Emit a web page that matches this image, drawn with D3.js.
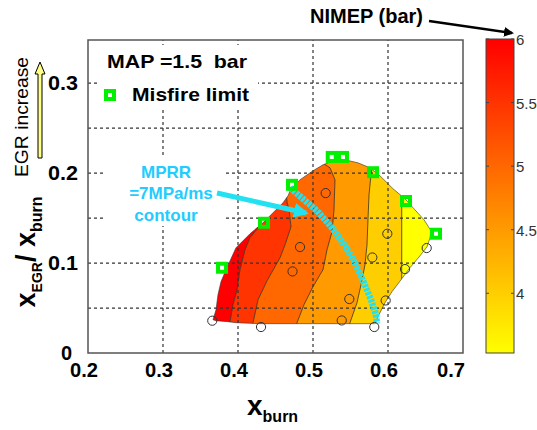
<!DOCTYPE html>
<html>
<head>
<meta charset="utf-8">
<script src="https://cdn.jsdelivr.net/npm/d3@7"></script>
<style>
body{margin:0;background:#fff;}
svg{font-family:"Liberation Sans",Arial,sans-serif;}
</style>
</head>
<body>
<svg id="chart" width="537" height="430"></svg>
<script>
// edge of the measured area, x_burn / x_EGR/x_burn (clockwise from bottom left)
const region = [[0.3667,0.0370],[0.3707,0.0481],[0.3733,0.0648],[0.3773,0.0792],[0.3840,0.0926],
  [0.3973,0.1170],[0.4160,0.1326],[0.4333,0.1448],[0.4493,0.1581],[0.4600,0.1670],[0.4667,0.1748],
  [0.4707,0.1826],[0.4827,0.1926],[0.5000,0.2026],[0.5133,0.2092],[0.5267,0.2137],[0.5427,0.2148],
  [0.5600,0.2114],[0.5760,0.2059],[0.5907,0.1959],[0.6067,0.1826],[0.6227,0.1714],[0.6347,0.1603],
  [0.6480,0.1481],[0.6573,0.1359],[0.6560,0.1281],[0.6520,0.1181],[0.6427,0.1081],[0.6293,0.0948],
  [0.6173,0.0814],[0.6053,0.0681],[0.5960,0.0559],[0.5880,0.0426],[0.5827,0.0326],[0.5360,0.0326],
  [0.4827,0.0326],[0.4293,0.0326],[0.3973,0.0337],[0.3867,0.0348],[0.3707,0.0359]]

// contour lines of NIMEP, bottom to top, left to right
const contour55 = [[0.388,0.0],[0.3893,0.0348],[0.3933,0.0537],[0.3987,0.0703],[0.4027,0.0926],
  [0.4093,0.1148],[0.4160,0.1281],[0.4267,0.1392],[0.435,0.17],[0.44,0.25]]
const contour50 = [[0.418,0.0],[0.4200,0.0337],[0.4267,0.0592],[0.4387,0.0803],[0.4560,0.1059],
  [0.4627,0.1203],[0.4707,0.1403],[0.4680,0.1592],[0.4653,0.1681],[0.462,0.2],[0.46,0.25]]
const contour45 = [[0.476,0.0],[0.4787,0.0337],[0.4880,0.0537],[0.5000,0.0737],[0.5133,0.0926],
  [0.5187,0.1148],[0.5253,0.1348],[0.5280,0.1592],[0.5293,0.1926],[0.5227,0.2059],[0.5147,0.2103],
  [0.505,0.25]]
const contour40 = [[0.547,0.0],[0.5493,0.0337],[0.5587,0.0559],[0.5640,0.0759],[0.5693,0.0981],
  [0.5720,0.1203],[0.5733,0.1481],[0.5747,0.1759],[0.5773,0.1981],[0.5787,0.2070],[0.58,0.25]]
const contour35 = [[0.6183,0.0],[0.6183,0.25]]

// NIMEP value used for the fill of each band, left to right
const bandNimep = [6, 5.5, 5, 4.5, 4, 3.53]

// measured points
const pointsX = [0.3657,0.4307,0.5817,0.5383,0.5484,0.4727,0.4827,0.5169,0.5791,0.5991,0.5969,0.6227,0.6516]
const pointsY = [0.0359,0.0289,0.0289,0.0362,0.0600,0.0907,0.1178,0.1778,0.1062,0.1326,0.0584,0.0933,0.1167]

// misfire limit
const misfireX = [0.3787,0.4347,0.4720,0.5250,0.5400,0.5800,0.6240,0.6640]
const misfireY = [0.0948,0.1448,0.1870,0.2180,0.2180,0.2010,0.1690,0.1326]

// MPRR = 7 MPa/ms contour
const mprrX = [0.4693,0.4867,0.5053,0.5253,0.5427,0.5560,0.5680,0.5773,0.5840,0.5853]
const mprrY = [0.1837,0.1714,0.1581,0.1392,0.1192,0.1003,0.0781,0.0592,0.0426,0.0326]

const xTicks = [0.2,0.3,0.4,0.5,0.6,0.7]
const yTicks = [0,0.1,0.2,0.3]
const yGrid = [0.05,0.1,0.15,0.2,0.25,0.3]
const cbarTicks = [4,4.5,5,5.5,6]

const svg = d3.select('#chart')
const x = d3.scaleLinear().domain([0.2,0.7]).range([88,463])
const y = d3.scaleLinear().domain([0,0.348]).range([353,40])
const cy = d3.scaleLinear().domain([3.53,6]).range([353,39])
const color = d3.scaleLinear().domain([3.53,6]).range(['#ffff00','#ff0000'])
const line = d3.line().x(d => x(d[0])).y(d => y(d[1]))

const defs = svg.append('defs')
defs.append('clipPath').attr('id','region').append('path').attr('d', line(region) + 'Z')
defs.append('marker').attr('id','blackHead').attr('viewBox','0 0 10 10').attr('refX',8).attr('refY',5)
  .attr('markerWidth',4).attr('markerHeight',4).attr('orient','auto')
  .append('path').attr('d','M0,0L10,5L0,10Z').attr('fill','#000')
defs.append('marker').attr('id','cyanHead').attr('viewBox','0 0 10 10').attr('refX',8).attr('refY',5)
  .attr('markerWidth',3).attr('markerHeight',3).attr('orient','auto')
  .append('path').attr('d','M0,0L10,5L0,10Z').attr('fill','#22e2f2')
const grad = defs.append('linearGradient').attr('id','autumn').attr('x1',0).attr('y1',1).attr('x2',0).attr('y2',0)
grad.append('stop').attr('offset',0).attr('stop-color',color(3.53))
grad.append('stop').attr('offset',1).attr('stop-color',color(6))

// filled bands
const edges = [[[0.2,0],[0.2,0.348]], contour55, contour50, contour45, contour40, contour35, [[0.7,0],[0.7,0.348]]]
const bands = d3.range(bandNimep.length).map(i => ({
  pts: edges[i].concat(edges[i + 1].slice().reverse()), v: bandNimep[i]
}))
const area = svg.append('g').attr('clip-path','url(#region)')
area.selectAll('path.band').data(bands).join('path').attr('class','band')
  .attr('d', d => line(d.pts) + 'Z').attr('fill', d => color(d.v))
area.selectAll('path.cline').data(edges.slice(1, -1)).join('path').attr('class','cline')
  .attr('d', line).attr('fill','none').attr('stroke','#3a2a10').attr('stroke-width',0.8)
svg.append('path').attr('d', line(region) + 'Z').attr('fill','none').attr('stroke','#333').attr('stroke-width',0.6)

// grid
const grid = svg.append('g').attr('stroke','#333').attr('stroke-width',1.2).attr('stroke-dasharray','3,3')
grid.selectAll('line.gx').data(xTicks.slice(1, -1)).join('line').attr('class','gx')
  .attr('x1', d => x(d)).attr('x2', d => x(d)).attr('y1', y(0)).attr('y2', 40)
grid.selectAll('line.gy').data(yGrid).join('line').attr('class','gy')
  .attr('y1', d => y(d)).attr('y2', d => y(d)).attr('x1', x(0.2)).attr('x2', x(0.7))

// boxes behind the notes
svg.append('rect').attr('x',98).attr('y',45).attr('width',160).attr('height',63).attr('fill','#fff')
svg.append('rect').attr('x',105).attr('y',158).attr('width',121).attr('height',68).attr('fill','#fff')

// frame
svg.append('rect').attr('x',x(0.2)).attr('y',40).attr('width',x(0.7)-x(0.2)).attr('height',y(0)-40)
  .attr('fill','none').attr('stroke','#555').attr('stroke-width',1.5)

// MPRR contour
svg.append('path').datum(d3.zip(mprrX, mprrY)).attr('d', line).attr('fill','none')
  .attr('stroke','#22e2f2').attr('stroke-width',6.5).attr('stroke-dasharray','3,1')

// points
svg.selectAll('circle.pt').data(d3.zip(pointsX, pointsY)).join('circle').attr('class','pt')
  .attr('cx', d => x(d[0])).attr('cy', d => y(d[1])).attr('r',4.6)
  .attr('fill','none').attr('stroke','#333').attr('stroke-width',1)
svg.selectAll('rect.mf').data(d3.zip(misfireX, misfireY)).join('rect').attr('class','mf')
  .attr('x', d => x(d[0]) - 4).attr('y', d => y(d[1]) - 4).attr('width',8).attr('height',8)
  .attr('fill','none').attr('stroke','#00f000').attr('stroke-width',4)

// tick labels
const lab = svg.append('g').attr('font-weight','bold').attr('font-size',20).attr('fill','#000')
lab.selectAll('text.xt').data(xTicks).join('text').attr('class','xt')
  .attr('x', (d, i) => i === xTicks.length - 1 ? x(d) + 2 : x(d) - 4)
  .attr('y',377).attr('text-anchor', (d, i) => i === xTicks.length - 1 ? 'end' : 'middle')
  .attr('textLength',28).attr('lengthAdjust','spacingAndGlyphs')
  .text(d3.format('.1f'))
lab.selectAll('text.yt').data(yTicks).join('text').attr('class','yt')
  .attr('x', d => d === 0 ? 72 : 78).attr('y', d => y(d) + 7).attr('text-anchor','end')
  .text(d => d === 0 ? '0' : d3.format('.1f')(d))
  .filter(d => d !== 0).attr('textLength',30).attr('lengthAdjust','spacingAndGlyphs')

// axis titles
const xl = svg.append('text').attr('x',247).attr('y',415).attr('font-weight','bold').attr('font-size',28)
xl.append('tspan').text('x')
xl.append('tspan').attr('font-size',16).attr('dy',7).text('burn')
const yl = svg.append('text').attr('transform','translate(35,252) rotate(-90)').attr('text-anchor','middle')
  .attr('font-weight','bold').attr('font-size',27)
yl.append('tspan').text('x')
yl.append('tspan').attr('font-size',14).attr('dy',7).text('EGR')
yl.append('tspan').attr('dy',-7).text('/ x')
yl.append('tspan').attr('font-size',16).attr('dy',7).text('burn')

// EGR increase
svg.append('text').attr('transform','translate(28,117) rotate(-90)').attr('text-anchor','middle')
  .attr('font-size',19).attr('textLength',120).attr('lengthAdjust','spacingAndGlyphs').text('EGR increase')
svg.append('path').attr('d','M38,158L38,74L35,74L40,62L45,74L42,74L42,158Z')
  .attr('fill','#ffff88').attr('stroke','#000').attr('stroke-width',1)

// notes
svg.append('text').attr('x',107).attr('y',68).attr('font-weight','bold').attr('font-size',19)
  .attr('textLength',140).attr('lengthAdjust','spacingAndGlyphs')
  .style('white-space','pre').text('MAP =1.5  bar')
svg.append('rect').attr('x',106).attr('y',91).attr('width',8).attr('height',8)
  .attr('fill','none').attr('stroke','#00f000').attr('stroke-width',4)
svg.append('text').attr('x',132).attr('y',101).attr('font-weight','bold').attr('font-size',19)
  .attr('textLength',117).attr('lengthAdjust','spacingAndGlyphs').text('Misfire limit')

const mp = svg.append('text').attr('text-anchor','middle').attr('font-weight','bold').attr('font-size',17).attr('fill','#22ccff')
mp.append('tspan').attr('x',166).attr('y',178).text('MPRR')
mp.append('tspan').attr('x',171).attr('y',199).text('=7MPa/ms')
mp.append('tspan').attr('x',166).attr('y',221).text('contour')
svg.append('line').attr('x1',217).attr('y1',193).attr('x2',306).attr('y2',213)
  .attr('stroke','#22e2f2').attr('stroke-width',5).attr('marker-end','url(#cyanHead)')

// colorbar
svg.append('rect').attr('x',486).attr('y',cy(6)).attr('width',28).attr('height',cy(3.53)-cy(6))
  .attr('fill','url(#autumn)').attr('stroke','#444').attr('stroke-width',1)
const cb = svg.append('g')
cb.selectAll('line.tl').data(cbarTicks).join('line').attr('class','tl')
  .attr('x1',486).attr('x2',489).attr('y1', d => cy(d)).attr('y2', d => cy(d)).attr('stroke','#444')
cb.selectAll('line.tr').data(cbarTicks).join('line').attr('class','tr')
  .attr('x1',511).attr('x2',514).attr('y1', d => cy(d)).attr('y2', d => cy(d)).attr('stroke','#444')
cb.selectAll('text').data(cbarTicks).join('text').attr('x',516).attr('y', d => cy(d) + 6)
  .attr('font-size',15).attr('fill','#333').text(d => d)

svg.append('text').attr('x',423).attr('y',23).attr('text-anchor','end').attr('font-weight','bold')
  .attr('font-size',20).text('NIMEP (bar)')
svg.append('line').attr('x1',429).attr('y1',21).attr('x2',512).attr('y2',33)
  .attr('stroke','#000').attr('stroke-width',2.5).attr('marker-end','url(#blackHead)')
</script>
</body>
</html>
